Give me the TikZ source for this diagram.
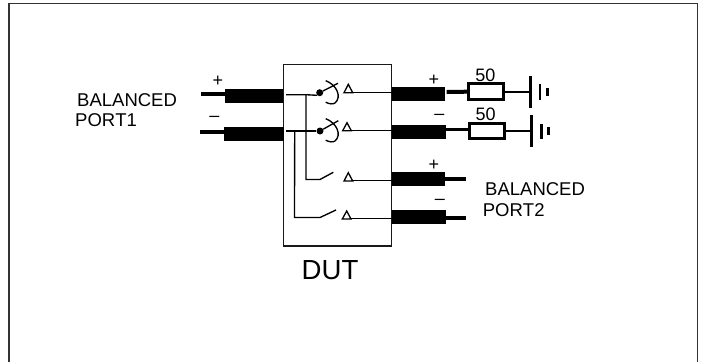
\documentclass[tikz,border=0pt]{standalone}
\usepackage{fontspec}
\setmainfont[Kerning=Off]{Liberation Sans}
\begin{document}
\begin{tikzpicture}[x=1pt,y=-1pt,
  wire/.style={line width=1.35pt,draw=black},
  lead/.style={line width=4pt,black},
  coax/.style={fill=black,draw=none,inner sep=0pt,minimum width=#1,minimum height=13.8pt},
  res/.style={draw=black,line width=3pt,fill=white,inner sep=0pt,minimum width=35pt,minimum height=15.5pt},
  dutbox/.style={draw=black!90,line width=1.3pt,inner sep=0pt,minimum width=108.4pt,minimum height=181.7pt},
  lab/.style={inner sep=0pt,anchor=base west,font=\fontsize{18.5}{20}\selectfont},
  sign/.style={inner sep=0pt,font=\fontsize{18}{20}\selectfont},
  val/.style={inner sep=0pt,font=\fontsize{18}{20}\selectfont},
  tri/.style={draw=black,line width=1.3pt,line join=miter},
  gnd/.style={line width=2.7pt,black},
  dot/.style={circle,fill=black,inner sep=0pt,minimum size=7pt}]
\useasboundingbox (0,0) rectangle (702,362);
\fill[white] (0,0) rectangle (702,362);
\coordinate (fbl) at (9,362); \coordinate (ftl) at (9,3.5);
\coordinate (ftr) at (697.3,3.5); \coordinate (fbr) at (697.3,362);
\draw[line width=1.3pt,draw=black!80] (fbl) -- (ftl) -- (ftr) -- (fbr);

\node[dutbox] (dut) at (337.5,155.2) {};

% coax segments
\node[coax=58.5pt] (c1) at (254.2,95.9) {};
\node[coax=59.5pt] (c2) at (253.8,133.9) {};
\node[coax=53.3pt] (c3) at (418.4,94) {};
\node[coax=54.3pt] (c4) at (418.9,132.2) {};
\node[coax=53.3pt] (c5) at (418.4,178.9) {};
\node[coax=54.3pt] (c6) at (418.9,216.9) {};

% leads
\coordinate (l1) at (200.7,94.3); \coordinate (l1e) at (226,94.3);
\coordinate (l2) at (200,132.3);  \coordinate (l2e) at (225,132.3);
\coordinate (l5) at (465.7,178.7); \coordinate (l5s) at (444,178.7);
\coordinate (l6) at (466,218);     \coordinate (l6s) at (445,218);
\draw[lead] (l1) -- (l1e);
\draw[lead] (l2) -- (l2e);
\draw[lead] (l5s) -- (l5);
\draw[lead] (l6s) -- (l6);

% resistors
\coordinate (l3) at (446.7,92); \coordinate (l4) at (446,129.6);
\node[res] (r1) at (486.2,91.7) {};
\node[res] (r2) at (487.2,131) {};
\draw[lead] (l3) -- (r1.west);
\draw[line width=3.4pt] (l4) -- (r2.west |- l4);
\node[val] (v1) at (485.3,75) {50};
\node[val] (v2) at (485.7,114.3) {50};

% grounds
\coordinate (g1a) at (530.7,75.7); \coordinate (g1b) at (530.7,108.3);
\coordinate (g2a) at (540,84);     \coordinate (g2b) at (540,100);
\coordinate (g3a) at (547.7,88.3); \coordinate (g3b) at (547.7,95.7);
\coordinate (h1a) at (531.7,115);  \coordinate (h1b) at (531.7,147.3);
\coordinate (h2a) at (541.3,124);  \coordinate (h2b) at (541.3,139.3);
\coordinate (h3a) at (548.7,127.3);\coordinate (h3b) at (548.7,135.3);
\draw[gnd] (g1a) -- (g1b);
\draw[gnd] (g2a) -- (g2b);
\draw[line width=3pt] (g3a) -- (g3b);
\draw[gnd] (h1a) -- (h1b);
\draw[gnd] (h2a) -- (h2b);
\draw[line width=3pt] (h3a) -- (h3b);
\draw[line width=1.7pt] (r1.east) -- (g1a |- r1.east);
\draw[line width=1.7pt] (r2.east) -- (h1a |- r2.east);

% switch 1
\coordinate (w1) at (286,94.7); \coordinate (j1) at (306,94.7);
\node[dot] (d1) at (319.7,92.7) {};
\coordinate (a1) at (338,83.3);
\draw[wire] (w1) -- (j1) -- (d1.south west);
\draw[wire] (d1) -- (a1);
\draw[wire] (325.7,80.7) .. controls (337,85) and (342,97) .. (335,103) .. controls (333,104.5) and (329,104) .. (325.7,102.2);
\coordinate (t1a) at (348.3,84.3); \coordinate (t1b) at (344,92.7); \coordinate (t1c) at (352.7,92.7);
\draw[tri] (t1a) -- (t1b) -- (t1c) -- cycle;
\draw[wire] (t1c) -- (c3.west |- t1c);

% switch 2
\coordinate (w2) at (286,131); \coordinate (j2) at (294.7,131);
\node[dot] (d2) at (320,131) {};
\coordinate (a2) at (338.3,120.7);
\draw[wire] (w2) -- (d2);
\draw[wire] (d2) -- (a2);
\draw[wire] (325.7,118.7) .. controls (337,123) and (342,135) .. (335,141) .. controls (333,142.5) and (329,142) .. (325.7,140.2);
\coordinate (t2a) at (347,122.7); \coordinate (t2b) at (342.7,130.7); \coordinate (t2c) at (351.3,130.7);
\draw[tri] (t2a) -- (t2b) -- (t2c) -- cycle;
\draw[wire] (t2c) -- (c4.west |- t2c);

% switch 3
\coordinate (k3) at (306,179.5); \coordinate (m3) at (320,179.5); \coordinate (a3) at (333.3,172.3);
\draw[wire] (j1) -- (k3) -- (m3) -- (a3);
\coordinate (t3a) at (348.3,172.7); \coordinate (t3b) at (344,181); \coordinate (t3c) at (352.7,181);
\coordinate (t3w) at (352.7,180.5);
\draw[tri] (t3a) -- (t3b) -- (t3c) -- cycle;
\draw[wire] (t3w) -- (c5.west |- t3w);

% switch 4
\coordinate (k4) at (294.5,217.5); \coordinate (m4) at (320,217.5); \coordinate (a4) at (336,210);
\draw[wire] (j2) -- (k4) -- (m4) -- (a4);
\coordinate (t4a) at (346.7,211); \coordinate (t4b) at (342.3,219); \coordinate (t4c) at (351,219);
\coordinate (t4w) at (351,218.5);
\draw[tri] (t4a) -- (t4b) -- (t4c) -- cycle;
\draw[wire] (t4w) -- (c6.west |- t4w);

% signs
\node[sign] (p1) at (218,81.7) {+};
\node[sign] (m1) at (214.3,119) {\textendash};
\node[sign] (p2) at (434,80.7) {+};
\node[sign] (m2) at (439.3,116.7) {\textendash};
\node[sign] (p3) at (434,165.3) {+};
\node[sign] (m3t) at (440,201.7) {\textendash};

% labels
\node[lab] (b1) at (77,106) {BALANCED};
\node[lab] (b1p) at (75,126.7) {PORT1};
\node[lab] (b2) at (485,195) {BALANCED};
\node[lab] (b2p) at (482.7,216.7) {PORT2};
\node[inner sep=0pt,anchor=base west,font=\fontsize{27.6}{30}\selectfont] (dt) at (301.5,279) {DUT};
\end{tikzpicture}
\end{document}
